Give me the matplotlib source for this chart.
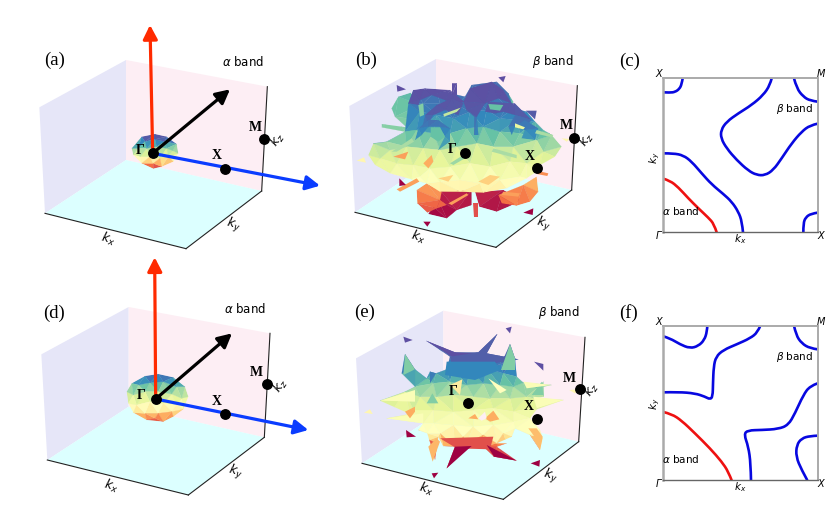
import numpy as np
import matplotlib
matplotlib.use('Agg')
import matplotlib.pyplot as plt
import matplotlib.tri as mtri
from matplotlib.path import Path
from matplotlib.patches import Polygon, PathPatch

W, H = 830, 518
wall_left = '#e6e6f8'
wall_back = '#fdeef4'
wall_floor = '#dcffff'
red = '#ff2a00'
blue = '#0a3cff'
cmap = plt.get_cmap('Spectral')

# 3D panels are stored in crop coordinates (3 units = 1 px)
a_corners = [(28, 262), (288, 120), (712, 200), (695, 513), (288, 420), (45, 580), (468, 686)]
b_corners = [(28, 198), (288, 57), (712, 137), (695, 450), (288, 355), (45, 517), (468, 622)]
d_corners = [(34, 313), (296, 171), (720, 250), (703, 562), (296, 470), (52, 630), (475, 735)]
e_corners = [(48, 205), (310, 62), (735, 142), (716, 455), (310, 360), (66, 520), (490, 628)]

# blob outlines, inner facet vertices, and height -> colour level
a_outline = [(305, 385), (335, 350), (375, 342), (410, 350), (440, 372), (445, 400), (430, 425),
             (395, 440), (370, 446), (335, 430), (310, 405)]
a_inner = [(345, 365), (375, 358), (405, 365), (325, 385), (350, 385), (380, 380), (410, 385),
           (428, 392), (330, 410), (360, 410), (390, 415), (415, 410), (370, 430)]
a_y = [342, 360, 385, 410, 430, 446]
a_lev = [1.0, .96, .74, .56, .28, .03]

d_outline = [(290, 425), (305, 400), (345, 378), (385, 372), (430, 382), (465, 410), (475, 440),
             (460, 478), (430, 500), (400, 515), (350, 510), (310, 488), (295, 460)]
d_inner = [(325, 405), (360, 398), (400, 395), (440, 410), (310, 435), (345, 425), (385, 425),
           (425, 432), (455, 445), (320, 465), (360, 455), (400, 460), (440, 465), (345, 490),
           (385, 490), (425, 485), (375, 505)]
d_y = [372, 395, 420, 450, 480, 500, 515]
d_lev = [.97, .88, .72, .58, .44, .27, .12]

# (b): base dome + yellow body
b_outline = [(205, 190), (220, 150), (290, 150), (375, 170), (395, 135), (470, 125), (505, 160),
             (520, 205), (560, 215), (585, 245), (610, 270), (635, 285), (665, 320),
             (645, 350), (600, 375), (590, 395), (560, 415), (500, 445), (430, 458), (360, 455),
             (300, 455), (260, 430), (215, 418), (150, 400), (105, 375), (85, 345), (100, 310),
             (140, 305), (195, 275)]
b_inner = [(250, 190), (300, 190), (350, 195), (410, 175), (460, 160), (500, 200),
           (240, 215), (290, 225), (340, 235), (390, 215), (440, 210), (480, 235),
           (530, 240), (230, 270), (280, 280), (330, 280), (380, 265), (430, 260), (480, 275),
           (540, 280), (590, 300), (150, 330), (200, 320), (250, 325), (300, 330), (350, 320),
           (410, 310), (460, 320), (520, 320), (610, 335), (120, 355), (170, 370), (220, 375),
           (270, 385), (330, 380), (390, 370), (450, 380), (510, 365), (560, 370), (240, 410),
           (300, 425), (360, 420), (420, 430), (480, 420), (540, 410)]
b_y = [125, 215, 260, 300, 340, 400, 440, 460]
b_lev = [.95, .92, .86, .76, .63, .54, .46, .42]

# (b): teal side lobes behind the ribbons
b_side = [
    [(155, 205), (175, 170), (212, 158), (240, 195), (235, 240), (228, 300), (195, 275), (125, 262),
     (125, 252), (200, 262), (165, 230)],
    [(490, 150), (505, 160), (520, 185), (520, 205), (505, 215), (480, 175)],
]
side_y = [160, 300]
side_lev = [.82, .72]

# (b): dark ribbons over the dome
ribbon_y = [125, 215, 260, 300]
ribbon_lev = [1.0, .98, .92, .86]
b_ribbons = [
    [(205, 190), (220, 150), (255, 145), (330, 150), (373, 185), (350, 195), (315, 180), (275, 165),
     (240, 180), (235, 195)],
    [(245, 270), (255, 225), (290, 195), (335, 175), (370, 190), (355, 225), (315, 210), (280, 225),
     (265, 250)],
    [(225, 300), (235, 265), (265, 240), (295, 240), (330, 265), (330, 305), (295, 330), (315, 290),
     (300, 260), (265, 260), (245, 285)],
    [(335, 130), (350, 130), (350, 165), (335, 165)],
    [(370, 185), (390, 145), (455, 125), (490, 150), (515, 190), (475, 175), (435, 190), (410, 230),
     (415, 285), (403, 285), (403, 230), (380, 210)],
    [(445, 185), (525, 190), (575, 240), (555, 265), (525, 225), (490, 215), (465, 220), (435, 215)],
    [(505, 260), (525, 225), (555, 240), (595, 265), (585, 300), (545, 295), (555, 270), (525, 260),
     (515, 285)],
]

# (b): lobes below the body
b_crimson = [
    [(300, 450), (395, 450), (395, 495), (350, 510), (320, 535), (265, 522), (280, 500), (295, 480)],
    [(405, 455), (490, 450), (545, 480), (510, 498), (470, 515), (418, 500)],
]
b_orange = [
    [(230, 450), (260, 430), (305, 455), (300, 480), (320, 495), (290, 505), (262, 518), (232, 490)],
    [(475, 465), (550, 435), (590, 410), (595, 455), (570, 485), (530, 497), (485, 490)],
]
crimson_y = [450, 535]
crimson_lev = [.07, .0]
orange_y = [425, 470, 535]
orange_lev = [.32, .23, .1]

b_extra = [
    ([(235, 195), (250, 190), (252, 225), (240, 230)], .76),
    ([(310, 222), (362, 203), (350, 216), (312, 230)], .66),
    ([(272, 262), (300, 262), (315, 290), (295, 305), (272, 290)], .8),
    ([(445, 192), (490, 195), (480, 212), (450, 208)], .8),
    ([(525, 250), (555, 262), (550, 268), (525, 262)], .58),
    ([(155, 335), (215, 295), (222, 305), (170, 335)], .7),
    ([(460, 325), (530, 345), (530, 355), (455, 335)], .7),
    ([(590, 270), (640, 285), (635, 292), (585, 280)], .7),
    ([(330, 370), (370, 345), (375, 355), (340, 375)], .72),
    ([(160, 350), (205, 335), (195, 358)], .28),
    ([(250, 370), (275, 345), (280, 365), (265, 385)], .3),
    ([(415, 425), (450, 405), (480, 410), (445, 435)], .37),
    ([(295, 415), (340, 405), (325, 425)], .37),
    ([(170, 448), (230, 415), (238, 425), (180, 455)], .28),
    ([(325, 490), (380, 460), (385, 465), (335, 495)], .28),
    ([(490, 455), (540, 460), (535, 470), (485, 465)], .28),
    ([(400, 490), (415, 490), (415, 530), (402, 530)], .14),
    ([(590, 392), (625, 400), (622, 408), (590, 402)], .25),
    ([(170, 135), (198, 148), (172, 155)], 1.0),
    ([(475, 112), (497, 108), (490, 127)], 1.0),
    ([(558, 212), (590, 212), (585, 238)], .98),
    ([(178, 415), (198, 435), (178, 438)], .0),
    ([(250, 545), (272, 545), (262, 560)], .0),
    ([(550, 518), (580, 505), (578, 525)], .0),
    ([(50, 362), (72, 352), (78, 368)], .47),
    ([(665, 295), (690, 297), (680, 305)], .47),
]

e_outline = [(258, 152), (345, 187), (415, 187), (472, 132), (440, 190), (535, 208), (483, 222),
             (510, 162), (525, 205), (530, 260), (550, 278), (635, 285), (590, 295), (610, 275),
             (612, 320), (580, 325), (670, 330), (590, 358), (570, 385), (600, 420), (608, 445),
             (600, 480), (570, 435), (525, 415), (515, 440), (470, 460), (500, 460), (470, 470),
             (530, 512), (462, 500), (430, 470), (390, 472), (360, 490), (320, 535), (345, 470),
             (310, 468), (295, 440), (285, 510), (268, 450), (262, 430), (235, 420), (250, 400),
             (140, 385), (210, 372), (120, 332), (195, 305), (225, 290), (185, 250), (195, 192),
             (225, 238), (260, 265), (270, 245), (288, 250), (320, 238), (330, 200)]
e_inner = [(300, 175), (360, 205), (420, 205), (480, 205), (340, 235), (390, 240), (440, 235),
           (490, 250), (280, 280), (330, 275), (380, 285), (430, 280), (480, 285), (520, 290),
           (240, 320), (290, 320), (340, 315), (400, 320), (450, 325), (510, 325), (560, 320),
           (220, 360), (280, 360), (340, 365), (400, 360), (460, 355), (520, 365), (570, 355),
           (280, 400), (340, 405), (400, 410), (460, 405), (520, 395), (300, 430), (370, 440),
           (430, 435), (490, 430), (380, 460)]
e_y = [132, 210, 250, 290, 330, 380, 420, 435, 450, 470, 530]
e_lev = [1.0, .95, .88, .75, .63, .54, .5, .46, .36, .18, 0.0]

# extra facets: (vertices, colour level)
e_extra = [
    ([(258, 152), (345, 187), (400, 190), (345, 205)], 1.0),
    ([(415, 187), (472, 132), (440, 190), (535, 208), (430, 225), (335, 225), (330, 200)], .97),
    ([(320, 215), (465, 215), (480, 240), (405, 270), (315, 255)], .9),
    ([(510, 162), (525, 205), (525, 240), (483, 240)], .76),
    ([(195, 192), (225, 238), (190, 255)], .76),
    ([(270, 245), (288, 250), (270, 280)], .92),
    ([(260, 340), (277, 310), (295, 340)], .76),
    ([(575, 315), (605, 275), (610, 315)], .76),
    ([(140, 385), (250, 370), (250, 400)], .52),
    ([(120, 332), (225, 300), (225, 335)], .52),
    ([(670, 330), (580, 320), (590, 355)], .52),
    ([(635, 285), (550, 275), (560, 295)], .52),
    ([(330, 285), (367, 268), (360, 315)], .44),
    ([(445, 265), (500, 300), (480, 310)], .5),
    ([(195, 365), (225, 350), (225, 365), (210, 385)], .3),
    ([(385, 385), (405, 372), (415, 388)], .3),
    ([(435, 385), (460, 362), (478, 388), (450, 395)], .3),
    ([(265, 470), (290, 445), (300, 455), (278, 515)], .32),
    ([(565, 415), (590, 415), (608, 440), (600, 480), (580, 435)], .33),
    ([(300, 445), (460, 440), (450, 478), (350, 475)], .14),
    ([(345, 470), (395, 468), (320, 535)], .0),
    ([(440, 465), (530, 512), (462, 500)], .0),
    ([(190, 140), (218, 150), (195, 158)], 1.0),
    ([(497, 115), (515, 110), (510, 130)], 1.0),
    ([(582, 215), (610, 222), (610, 242)], 1.0),
    ([(198, 420), (228, 440), (200, 442)], .0),
    ([(275, 550), (295, 548), (282, 565)], .0),
    ([(572, 520), (600, 510), (598, 530)], .0),
    ([(72, 368), (90, 358), (98, 372)], .47),
    ([(688, 300), (715, 298), (705, 310)], .47),
]
e_holes = [([(415, 385), (435, 365), (440, 385), (425, 392)], wall_back)]

# Fermi surface contours, panels (c) and (f), crop coordinates
c_alpha = [(145, 386), (165, 392), (190, 412), (220, 445), (250, 475), (280, 503), (297, 522), (305, 547)]
c_beta = [
    [(145, 127), (165, 128), (180, 126), (193, 117), (200, 103), (203, 85)],
    [(145, 310), (175, 310), (205, 316), (230, 335), (260, 370), (290, 403), (325, 432), (350, 455),
     (370, 485), (381, 515), (384, 547)],
    [(470, 85), (465, 105), (445, 135), (410, 165), (370, 190), (335, 215), (318, 240), (318, 265),
     (335, 295), (365, 330), (400, 362), (425, 375), (450, 376), (475, 360), (500, 325), (530, 280),
     (560, 245), (585, 226), (608, 221)],
    [(537, 85), (545, 115), (565, 140), (585, 152), (608, 155)],
    [(565, 547), (565, 520), (572, 502), (588, 491), (608, 488)],
]
f_alpha = [(145, 336), (170, 342), (200, 362), (240, 400), (285, 445), (320, 485), (340, 515), (350, 541)]
f_beta = [
    [(145, 109), (165, 115), (195, 133), (225, 145), (250, 138), (268, 120), (276, 95), (277, 77)],
    [(145, 277), (190, 276), (240, 280), (270, 290), (285, 298), (293, 290), (294, 250), (296, 200),
     (303, 170), (325, 150), (365, 133), (405, 115), (428, 97), (436, 77)],
    [(408, 541), (407, 490), (400, 440), (387, 403), (398, 391), (440, 390), (490, 387), (520, 375),
     (540, 340), (565, 285), (585, 258), (608, 250)],
    [(537, 77), (543, 105), (560, 130), (585, 145), (608, 148)],
    [(577, 541), (560, 510), (543, 470), (545, 435), (560, 415), (585, 408), (608, 407)],
]

fig = plt.figure(figsize=(W / 100, H / 100), dpi=100)


def crop_axes(px, py, pw, ph):
    ax = fig.add_axes([px / W, 1 - (py + ph) / H, pw / W, ph / H])
    ax.set_xlim(0, pw * 3)
    ax.set_ylim(ph * 3, 0)
    ax.axis('off')
    ax.patch.set_alpha(0)
    return ax


def draw_box(ax, c):
    ax.add_patch(Polygon([c[0], c[1], c[4], c[5]], fc=wall_left, ec='none', zorder=1))
    ax.add_patch(Polygon([c[1], c[2], c[3], c[4]], fc=wall_back, ec='none', zorder=1))
    ax.add_patch(Polygon([c[5], c[4], c[3], c[6]], fc=wall_floor, ec='none', zorder=1))
    for p, q in [(c[5], c[6]), (c[6], c[3]), (c[3], c[2])]:
        ax.plot([p[0], q[0]], [p[1], q[1]], color='#222222', lw=0.8, zorder=2)


def draw_blob(ax, outline, inner, ys, levs, zorder=3):
    pts = np.array(list(outline) + list(inner), dtype=float)
    tri = mtri.Triangulation(pts[:, 0], pts[:, 1])
    cy = pts[tri.triangles, 1].mean(axis=1)
    colors = np.interp(cy, ys, levs)
    pc = ax.tripcolor(tri, facecolors=colors, cmap=cmap, vmin=0, vmax=1,
                      edgecolors='face', linewidth=0.2, zorder=zorder)
    pc.set_clip_path(Polygon(outline, transform=ax.transData))


def draw_extra(ax, extra, zorder=4):
    for verts, lev in extra:
        ax.add_patch(Polygon(verts, fc=cmap(lev), ec='none', zorder=zorder))


def draw_points(ax, gamma, x_pt, m_pt, labels):
    ax.plot(*gamma, 'o', color='k', ms=6.8, zorder=8, clip_on=False)
    ax.plot(*x_pt, 'o', color='k', ms=6.8, zorder=8, clip_on=False)
    ax.plot(*m_pt, 'o', color='k', ms=6.8, zorder=8, clip_on=False)
    for s, (x, y) in zip(['Γ', 'X', 'M'], labels):
        ax.text(x, y, s, family='Liberation Serif', weight='bold', fontsize=10,
                ha='center', va='center', zorder=9)


def draw_arrow(ax, start, end, col):
    ax.annotate('', xy=end, xytext=start, zorder=6, annotation_clip=False,
                arrowprops=dict(arrowstyle='-|>,head_length=0.7,head_width=0.36', color=col, lw=2.3,
                                mutation_scale=12, shrinkA=0, shrinkB=0))


def axis_labels(ax, kx, ky, kz):
    ax.text(*kx, r'$k_x$', fontsize=9, rotation=-15, ha='center', va='center', zorder=9)
    ax.text(*ky, r'$k_y$', fontsize=9, rotation=-15, ha='center', va='center', zorder=9)
    ax.text(*kz, r'$k_z$', fontsize=9, rotation=55, ha='center', va='center', zorder=9)


def panel_tag(ax, x, y, s):
    ax.text(x, y, s, family='Liberation Serif', fontsize=13.5, ha='center', va='center', zorder=9,
            clip_on=False)


def smooth_line(ax, pts, col):
    # quadratic segments through the midpoints of the read points
    verts = [pts[0]]
    codes = [Path.MOVETO]
    for i in range(1, len(pts) - 1):
        nxt = pts[i + 1] if i == len(pts) - 2 else ((pts[i][0] + pts[i + 1][0]) / 2, (pts[i][1] + pts[i + 1][1]) / 2)
        verts += [pts[i], nxt]
        codes += [Path.CURVE3, Path.CURVE3]
    ax.add_patch(PathPatch(Path(verts, codes), fc='none', ec=col, lw=1.9, capstyle='butt', joinstyle='round'))


# (a)
ax = crop_axes(30, 20, 300, 240)
draw_box(ax, a_corners)
draw_blob(ax, a_outline, a_inner, a_y, a_lev)
draw_arrow(ax, (368, 400), (360, 15), red)
draw_arrow(ax, (368, 400), (600, 208), 'k')
draw_arrow(ax, (368, 400), (870, 497), blue)
draw_points(ax, (368, 400), (585, 446), (703, 356), [(330, 393), (560, 406), (675, 322)])
axis_labels(ax, (235, 658), (610, 617), (742, 358))
panel_tag(ax, 73, 122, '(a)')
ax.text(640, 127, r'$\alpha$ band', fontsize=8.5, ha='center', va='center')

# (b)
ax = crop_axes(340, 40, 260, 220)
draw_box(ax, b_corners)
for lobe in b_crimson:
    draw_blob(ax, lobe, [], crimson_y, crimson_lev)
for lobe in b_orange:
    draw_blob(ax, lobe, [], orange_y, orange_lev)
for lobe in b_side:
    draw_blob(ax, lobe, [], side_y, side_lev)
draw_blob(ax, b_outline, b_inner, b_y, b_lev, zorder=4)
for ribbon in b_ribbons:
    draw_blob(ax, ribbon, [], ribbon_y, ribbon_lev, zorder=5)
draw_extra(ax, b_extra, zorder=5)
draw_points(ax, (375, 338), (590, 384), (702, 295), [(338, 328), (570, 350), (678, 257)])
axis_labels(ax, (235, 592), (610, 553), (738, 298))
panel_tag(ax, 78, 62, '(b)')
ax.text(638, 64, r'$\beta$ band', fontsize=8.5, ha='center', va='center')

# (d)
ax = crop_axes(30, 250, 300, 260)
draw_box(ax, d_corners)
draw_blob(ax, d_outline, d_inner, d_y, d_lev)
draw_arrow(ax, (377, 447), (374, 22), red)
draw_arrow(ax, (377, 447), (606, 250), 'k')
draw_arrow(ax, (377, 447), (835, 540), blue)
draw_points(ax, (377, 447), (585, 491), (712, 402), [(333, 436), (561, 455), (680, 369)])
axis_labels(ax, (242, 708), (616, 668), (750, 408))
panel_tag(ax, 73, 190, '(d)')
ax.text(645, 177, r'$\alpha$ band', fontsize=8.5, ha='center', va='center')

# (e)
ax = crop_axes(340, 290, 260, 220)
draw_box(ax, e_corners)
draw_blob(ax, e_outline, e_inner, e_y, e_lev)
draw_extra(ax, e_extra)
for verts, col in e_holes:
    ax.add_patch(Polygon(verts, fc=col, ec='none', zorder=5))
draw_points(ax, (385, 340), (592, 386), (720, 297), [(340, 305), (567, 348), (687, 265)])
axis_labels(ax, (257, 596), (630, 558), (755, 298))
panel_tag(ax, 75, 68, '(e)')
ax.text(658, 68, r'$\beta$ band', fontsize=8.5, ha='center', va='center')


def fermi_panel(top, crop_top, y_low, y_high, alpha_line, beta_lines, tag_xy, tag, a_text, b_text, ky_xy):
    left = 615 + 143 / 3
    right = 615 + 608 / 3
    bottom = crop_top + y_high / 3
    ax = fig.add_axes([left / W, 1 - bottom / H, (right - left) / W, (bottom - top) / H])
    ax.set_xlim(143, 608)
    ax.set_ylim(y_high, y_low)
    ax.set_xticks([])
    ax.set_yticks([])
    for s in ['left', 'top', 'right']:
        ax.spines[s].set_color('#aaaaaa')
        ax.spines[s].set_linewidth(1.4)
    ax.spines['left'].set_linewidth(1.8)
    ax.spines['bottom'].set_color('#666666')
    ax.spines['bottom'].set_linewidth(1.0)
    smooth_line(ax, alpha_line, '#ee1111')
    for line in beta_lines:
        smooth_line(ax, line, '#0808e0')
    for s, x, y in [('X', 130, y_low - 12), ('M', 617, y_low - 12), ('Γ', 130, y_high + 10),
                    ('X', 617, y_high + 12)]:
        ax.text(x, y, s, fontsize=7, style='italic', ha='center', va='center', clip_on=False)
    ax.text(375, y_high + 20, r'$k_x$', fontsize=7.5, ha='center', va='center', clip_on=False)
    ax.text(*ky_xy, r'$k_y$', fontsize=7.5, rotation=90, ha='center', va='center', clip_on=False)
    ax.text(*a_text, r'$\alpha$ band', fontsize=7.5, ha='center', va='center')
    ax.text(*b_text, r'$\beta$ band', fontsize=7.5, ha='center', va='center')
    ax.text(*tag_xy, tag, family='Liberation Serif', fontsize=13.5, ha='center', va='center', clip_on=False)


fermi_panel(50 + 85 / 3, 50, 85, 547, c_alpha, c_beta, (45, 33), '(c)', (198, 484), (540, 178), (118, 322))
fermi_panel(300 + 77 / 3, 300, 77, 541, f_alpha, f_beta, (40, 40), '(f)', (198, 478), (540, 171), (118, 312))

fig.savefig('out.png', dpi=100)
